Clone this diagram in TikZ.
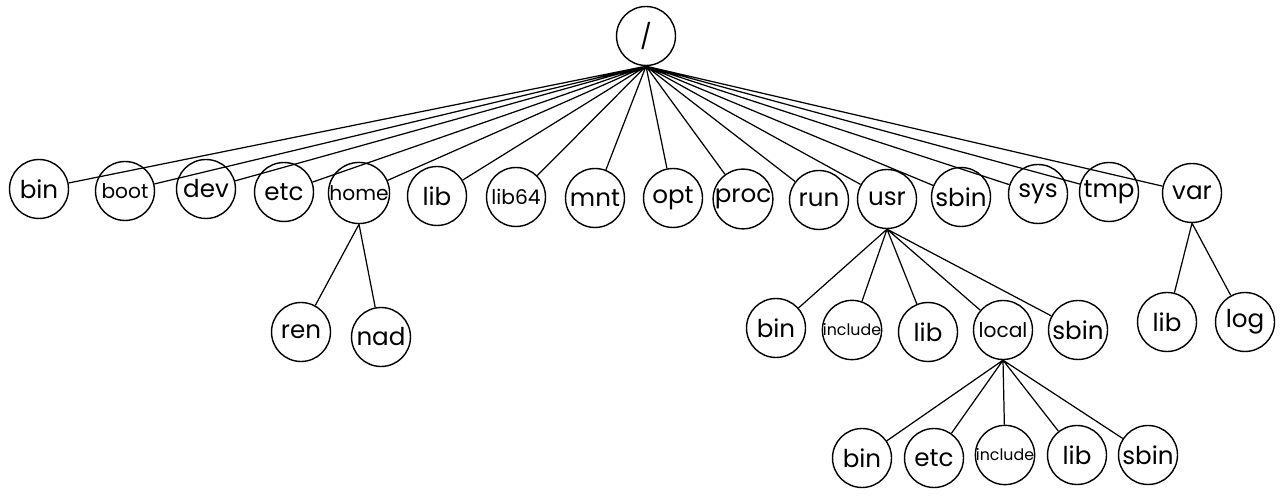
\documentclass[tikz,border=0pt]{standalone}
\usepackage{fontspec}
\setmainfont{Poppins}
\usetikzlibrary{positioning}

\tikzset{
  dir/.style={circle, draw, line width=0.8pt, minimum size=1.18cm, inner sep=0pt,
    font=\fontsize{14}{16}\selectfont},
  small/.style={font=\fontsize{11.5}{13}\selectfont},
  tiny/.style={font=\fontsize{9}{10}\selectfont},
  link/.style={line width=0.7pt},
}

\begin{document}
\begin{tikzpicture}[x=0.02cm, y=-0.02cm]
\useasboundingbox (0,0) rectangle (1284,499);

\node[dir] (root) at (646,36) {/};

% first level
\node[dir] (bin) at (39,189) {bin};
\node[dir, small] (boot) at (125,191) {boot};
\node[dir] (dev) at (206,189) {dev};
\node[dir] (etc) at (284,192) {etc};
\node[dir, small] (home) at (359,193) {home};
\node[dir] (lib) at (437,196) {lib};
\node[dir, small] (lib64) at (516,197) {lib64};
\node[dir] (mnt) at (595,198) {mnt};
\node[dir] (opt) at (673,198) {opt};
\node[dir] (proc) at (743,199) {proc};
\node[dir] (run) at (819,200) {run};
\node[dir] (usr) at (887,199) {usr};
\node[dir] (sbin) at (961,197) {sbin};
\node[dir] (sys) at (1038,194) {sys};
\node[dir] (tmp) at (1109,192) {tmp};
\node[dir] (var) at (1192,193) {var};

% home
\node[dir] (ren) at (301,332) {ren};
\node[dir] (nad) at (381,337) {nad};

% usr
\node[dir] (usrbin) at (776,328) {bin};
\node[dir, tiny] (usrinclude) at (852,330) {include};
\node[dir] (usrlib) at (928,332) {lib};
\node[dir, small] (local) at (1003,330) {local};
\node[dir] (usrsbin) at (1078,330) {sbin};

% var
\node[dir] (varlib) at (1167,322) {lib};
\node[dir] (log) at (1245,322) {log};

% usr/local
\node[dir] (localbin) at (862,458) {bin};
\node[dir] (localetc) at (934,458) {etc};
\node[dir, tiny] (localinclude) at (1005,455) {include};
\node[dir] (locallib) at (1077,455) {lib};
\node[dir] (localsbin) at (1148,455) {sbin};

\draw[link]
    (root.south) -- (bin)
    (root.south) -- (boot)
    (root.south) -- (dev)
    (root.south) -- (etc)
    (root.south) -- (home)
    (root.south) -- (lib)
    (root.south) -- (lib64)
    (root.south) -- (mnt)
    (root.south) -- (opt)
    (root.south) -- (proc)
    (root.south) -- (run)
    (root.south) -- (usr)
    (root.south) -- (sbin)
    (root.south) -- (sys)
    (root.south) -- (tmp)
    (root.south) -- (var)
    (home.south) -- (ren)
    (home.south) -- (nad)
    (usr.south) -- (usrbin)
    (usr.south) -- (usrinclude)
    (usr.south) -- (usrlib)
    (usr.south) -- (local)
    (usr.south) -- (usrsbin)
    (var.south) -- (varlib)
    (var.south) -- (log)
    (local.south) -- (localbin)
    (local.south) -- (localetc)
    (local.south) -- (localinclude)
    (local.south) -- (locallib)
    (local.south) -- (localsbin)
    ;
\end{tikzpicture}
\end{document}
